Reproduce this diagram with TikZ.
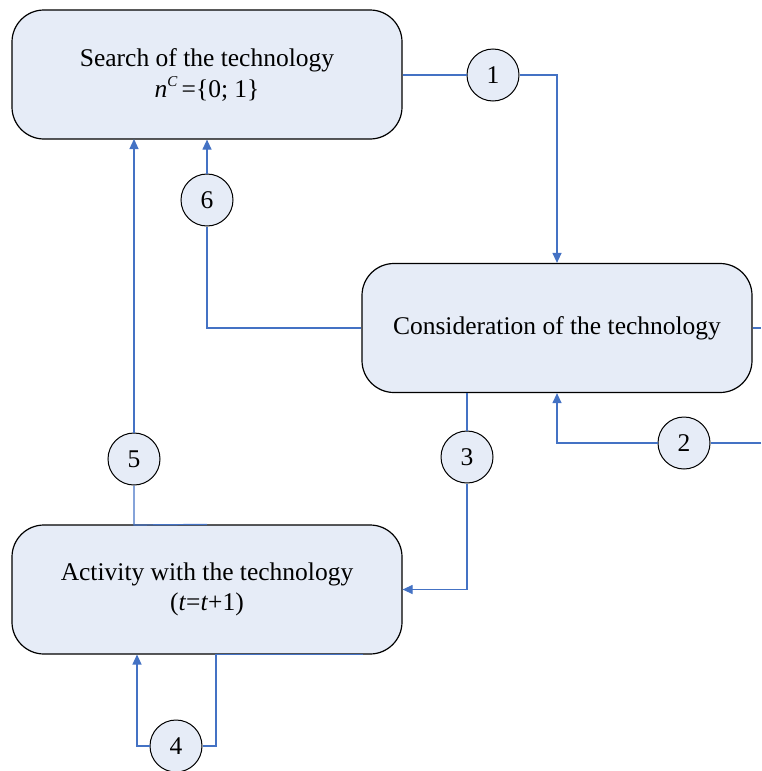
\documentclass[tikz,border=0pt]{standalone}
\usepackage{fontspec}
\setmainfont{Liberation Serif}
\usetikzlibrary{arrows.meta,calc}
\definecolor{boxfill}{RGB}{230,236,247}
\definecolor{linkblue}{RGB}{68,114,196}
\tikzset{
  procbox/.style={draw=black, line width=1.2pt, fill=boxfill, rounded corners=32pt,
    minimum width=390pt, minimum height=129pt, align=center, inner sep=0pt,
    font=\fontsize{25.5}{31}\selectfont},
  numcirc/.style={draw=black, line width=1pt, fill=boxfill, circle, minimum size=52pt,
    inner sep=0pt, font=\fontsize{25.5}{30}\selectfont},
  link/.style={draw=linkblue, line width=1.2pt},
  arr/.style={link, -{Triangle[width=9pt,length=10pt]}}
}
\begin{document}
\begin{tikzpicture}[x=1pt,y=-1pt]
\useasboundingbox (0,0) rectangle (761,771);
% boxes
\node[procbox] (b1) at (207,74.5) {Search of the technology\\[0pt]\textit{n}\raisebox{0.42em}{\fontsize{15}{15}\selectfont\textit{C}}\,=\{0; 1\}};
\node[procbox] (b2) at (557,328) {Consideration of the technology};
\node[procbox] (b3) at (207,589.5) {Activity with the technology\\[-1pt](\textit{t}=\textit{t}+1)};
% circles
\node[numcirc] (c1) at (493,75) {1};
\node[numcirc] (c2) at (684,443) {2};
\node[numcirc] (c3) at (467,457) {3};
\node[numcirc] (c4) at (176,746) {4};
\node[numcirc] (c5) at (134,459) {5};
\node[numcirc] (c6) at (207,200) {6};
% helper coordinates
\coordinate (r2) at (761,443);
\coordinate (rs) at (761,328);
\coordinate (b2s3) at (467,393);
\coordinate (b3t) at (134,525);
\coordinate (b1s5) at (134,139);
\coordinate (b3b) at (363,654.5);
\coordinate (k4) at (216,654.5);
\coordinate (b3s4) at (137,654.5);
% connectors
\draw[link] (b1.east |- c1) -- (c1.west);
\draw[arr] (c1.east) -| (b2.north);
\draw[link] (r2) -- (c2.east);
\draw[arr] (c2.west) -| (b2.south);
\draw[link] (b2s3) -- (c3.north);
\draw[arr] (c3.south) |- (b3.east);
\draw[link] (b2.west) -| (c6.south);
\draw[arr] (c6.north) -- (b1.south);
\draw[link] (b3.north) -- (b3t) -- (c5.south);
\draw[arr] (c5.north) -- (b1s5);
\draw[link] (b3b) -- (k4) |- (c4.east);
\draw[arr] (c4.west) -| (b3s4);
\draw[link] (b2.east) -- (rs);
\end{tikzpicture}
\end{document}
